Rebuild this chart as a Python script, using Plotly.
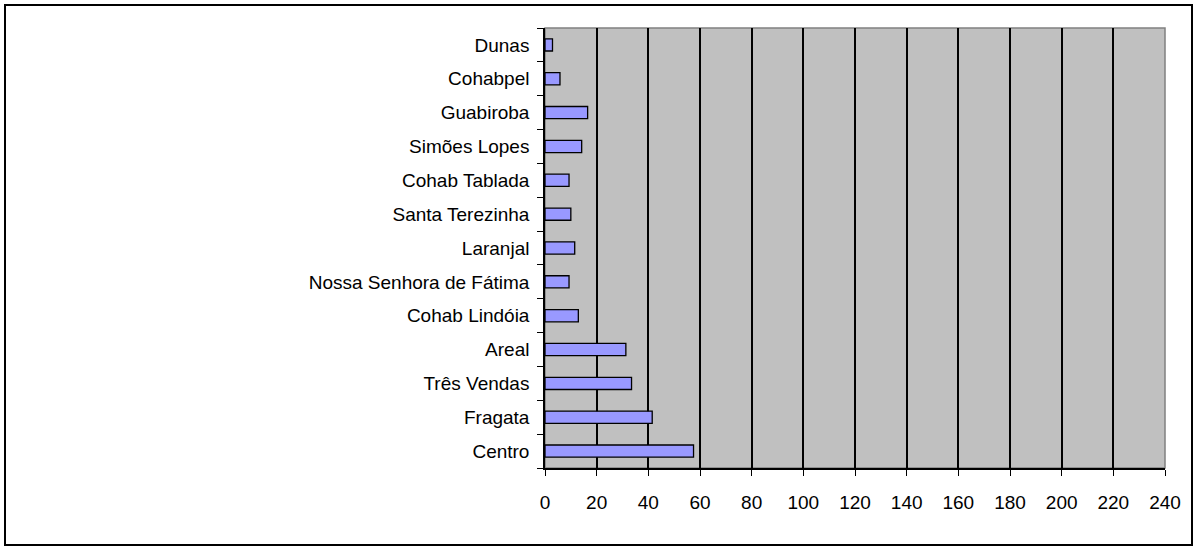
import plotly.graph_objects as go

categories = ["Centro", "Fragata", "Três Vendas", "Areal", "Cohab Lindóia",
              "Nossa Senhora de Fátima", "Laranjal", "Santa Terezinha",
              "Cohab Tablada", "Simões Lopes", "Guabiroba", "Cohabpel", "Dunas"]
values = [57.5, 41.5, 33.5, 31.3, 12.9, 9.3, 11.5, 10, 9.3, 14.2, 16.5, 5.8, 2.9]
x_ticks = list(range(0, 241, 20))

W, H = 1194, 547
L, R, T, B = 545, 1165, 28, 468

fig = go.Figure()
fig.add_trace(go.Bar(
    x=values, y=categories, orientation="h",
    marker=dict(color="#9999FF", line=dict(color="black", width=1.3)),
    width=0.36,
))

fig.update_layout(
    width=W, height=H,
    margin=dict(l=L, r=W - R, t=T, b=H - B, pad=0),
    paper_bgcolor="white", plot_bgcolor="#C0C0C0",
    font=dict(family="Liberation Sans, Arial", size=19, color="black"),
    showlegend=False,
    xaxis=dict(range=[0, 240], tickvals=x_ticks, ticktext=[str(v) for v in x_ticks],
               showgrid=True, gridcolor="black", gridwidth=1.5,
               showline=True, linecolor="black", linewidth=1.5,
               ticks="outside", ticklen=6, tickcolor="black", tickwidth=1.3,
               ticklabelstandoff=10,
               zeroline=False, fixedrange=True),
    yaxis=dict(type="category", categoryorder="array", categoryarray=categories,
               range=[-0.5, len(categories) - 0.5],
               showline=True, linecolor="black", linewidth=1.5,
               ticks="outside", ticklen=6, tickcolor="black", tickwidth=1.3,
               ticklabelstandoff=10,
               tickson="boundaries", showgrid=False, fixedrange=True),
)

pw, ph = R - L, B - T
fig.add_shape(type="rect", xref="paper", yref="paper",
              x0=(5 - L) / pw, x1=(1192 - L) / pw,
              y0=(B - 545) / ph, y1=(B - 5) / ph,
              line=dict(color="black", width=2), layer="below")
fig.add_shape(type="rect", xref="paper", yref="paper",
              x0=0, x1=1, y0=0, y1=1,
              line=dict(color="#808080", width=1.5), layer="below")

fig.write_html("out.html", config={"displayModeBar": False},
               post_script="document.body.style.margin='0';")
